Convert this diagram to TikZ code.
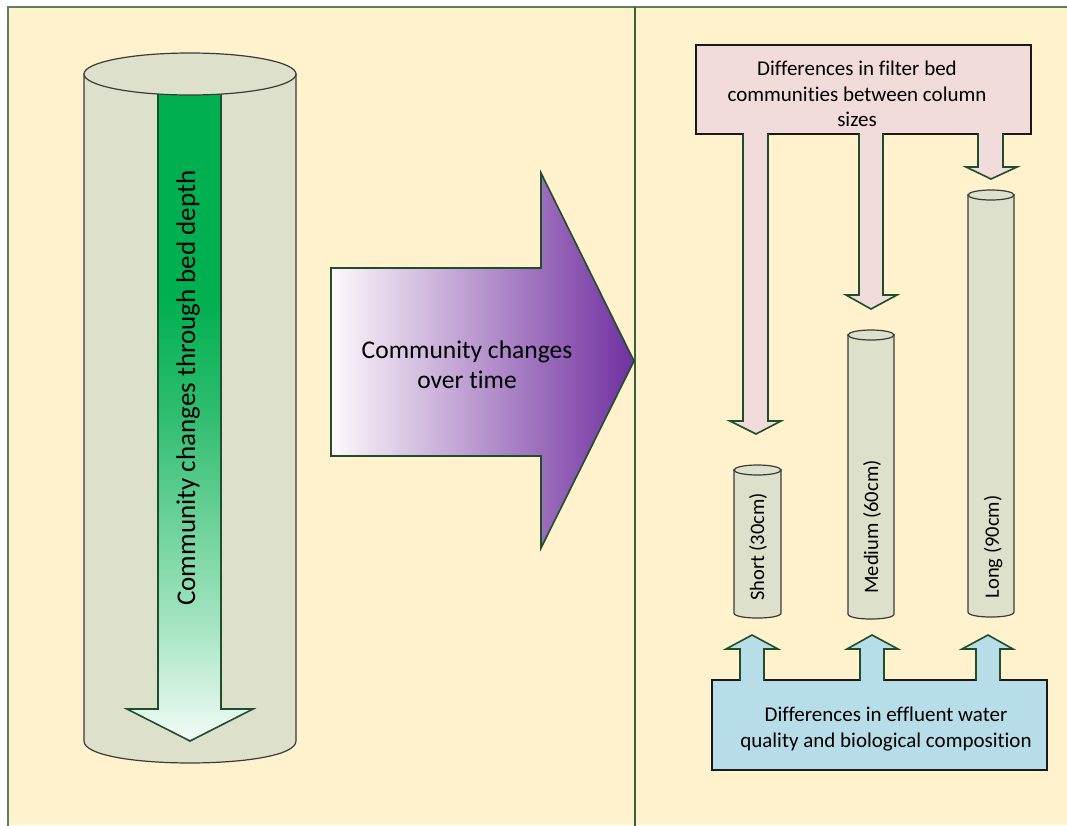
\documentclass[tikz,border=0pt]{standalone}
\usepackage{fontspec}
\setmainfont{Carlito}[Ligatures=NoCommon]
\definecolor{cream}{HTML}{FFF2CC}
\definecolor{framec}{HTML}{5E7F5E}
\definecolor{divc}{HTML}{3A5F3A}
\definecolor{cylc}{HTML}{DDE0CA}
\definecolor{cyledge}{HTML}{3A3A3A}
\definecolor{agreen}{HTML}{1F4E2C}
\definecolor{pinkc}{HTML}{F2DCDB}
\definecolor{bluec}{HTML}{B7DEE8}
\definecolor{gtop}{HTML}{00B050}
\definecolor{gmid}{HTML}{30BD70}
\definecolor{glow}{HTML}{A8E6C4}
\definecolor{gbot}{HTML}{F3FBF7}
\definecolor{purp}{HTML}{7030A0}
\definecolor{pwhite}{HTML}{FDF9FB}
\pgfdeclareverticalshading{greenfade}{100bp}{color(0bp)=(gbot); color(25bp)=(gbot); color(33.5bp)=(glow); color(50bp)=(gmid); color(59bp)=(gtop); color(100bp)=(gtop)}
\begin{document}
\begin{tikzpicture}[x=1pt,y=-1pt,
  cyl/.style={fill=cylc, draw=cyledge, line width=1.2pt},
  arr/.style={draw=agreen, line width=1.6pt, line join=miter},
  boxline/.style={draw=black!90, line width=1.8pt},
  lbl/.style={text=black, inner sep=0pt},
  collbl/.style={lbl, rotate=90, font=\fontsize{20.5}{24}\selectfont},
  boxtxt/.style={lbl, align=center, font=\fontsize{21}{25.5}\selectfont}]
\useasboundingbox (0,0) rectangle (1067,825);
\fill[white] (0,0) rectangle (1067,825);
\fill[cream] (8,7) rectangle (1067,825);
\draw[framec, line width=2pt] (8,826) -- (8,7) -- (1068,7);
\draw[divc, line width=2.5pt] (635,7) -- (635,826);

% big cylinder
\path[cyl] (84,74) -- (84,741) .. controls (84,770.3) and (296,770.3) .. (296,741) -- (296,74) -- cycle;
\shadedraw[arr, shading=greenfade] (158,90) -- (158,709) -- (127,709) -- (190,741) -- (253,709) -- (221,709) -- (221,90) -- cycle;
\draw[cyl] (190,74) ellipse [x radius=106pt, y radius=21pt];
\node[lbl, rotate=90, font=\fontsize{27}{32}\selectfont] (depthlbl) at (188,388) {Community changes through bed depth};

% purple arrow
\shadedraw[arr, left color=pwhite, right color=purp] (331,268) -- (541,268) -- (541,173) -- (634,361) -- (541,548) -- (541,456) -- (331,456) -- cycle;
\node[lbl, align=center, font=\fontsize{25.5}{30}\selectfont] (timelbl) at (467,365) {Community changes\\over time};

% pink box and down arrows
\draw[boxline, fill=pinkc] (696,45) rectangle (1031,134);
\filldraw[arr, fill=pinkc] (743,134) -- (743,421) -- (730,421) -- (756,434) -- (781,421) -- (768,421) -- (768,134);
\filldraw[arr, fill=pinkc] (859,134) -- (859,295) -- (846,295) -- (871,309) -- (897,295) -- (883,295) -- (883,134);
\filldraw[arr, fill=pinkc] (978,134) -- (978,167) -- (966,167) -- (991,179) -- (1017,167) -- (1003,167) -- (1003,134);
\fill[pinkc] (743.8,130) rectangle (767.2,137);
\fill[pinkc] (859.8,130) rectangle (882.2,137);
\fill[pinkc] (978.8,130) rectangle (1002.2,137);
\node[boxtxt] (toptxt) at (857,94) {Differences in filter bed\\communities between column\\sizes};

% small cylinders
\path[cyl] (734,470) -- (734,613) .. controls (734,619.7) and (781,619.7) .. (781,613) -- (781,470) -- cycle;
\draw[cyl] (757.5,470) ellipse [x radius=23.5pt, y radius=5pt];
\node[collbl] (shortlbl) at (758,547) {Short (30cm)};

\path[cyl] (848,335) -- (848,614) .. controls (848,620.7) and (894,620.7) .. (894,614) -- (894,335) -- cycle;
\draw[cyl] (871,335) ellipse [x radius=23pt, y radius=5pt];
\node[collbl] (medlbl) at (872,527) {Medium (60cm)};

\path[cyl] (968,195) -- (968,612) .. controls (968,618.7) and (1014,618.7) .. (1014,612) -- (1014,195) -- cycle;
\draw[cyl] (991,195) ellipse [x radius=23pt, y radius=5pt];
\node[collbl] (longlbl) at (993,547) {Long (90cm)};

% blue box and up arrows
\draw[boxline, fill=bluec] (712,680) rectangle (1047,770);
\filldraw[arr, fill=bluec] (740,680) -- (740,649) -- (726,649) -- (752,635) -- (778,649) -- (764,649) -- (764,680);
\filldraw[arr, fill=bluec] (860,680) -- (860,649) -- (847,649) -- (872,635) -- (898,649) -- (884,649) -- (884,680);
\filldraw[arr, fill=bluec] (976,680) -- (976,649) -- (962,649) -- (988,635) -- (1013,649) -- (1000,649) -- (1000,680);
\fill[bluec] (740.8,677) rectangle (763.2,683);
\fill[bluec] (860.8,677) rectangle (883.2,683);
\fill[bluec] (976.8,677) rectangle (999.2,683);
\node[boxtxt, font=\fontsize{21}{26}\selectfont] (bottxt) at (886,729) {Differences in effluent water\\quality and biological composition};
\end{tikzpicture}
\end{document}
